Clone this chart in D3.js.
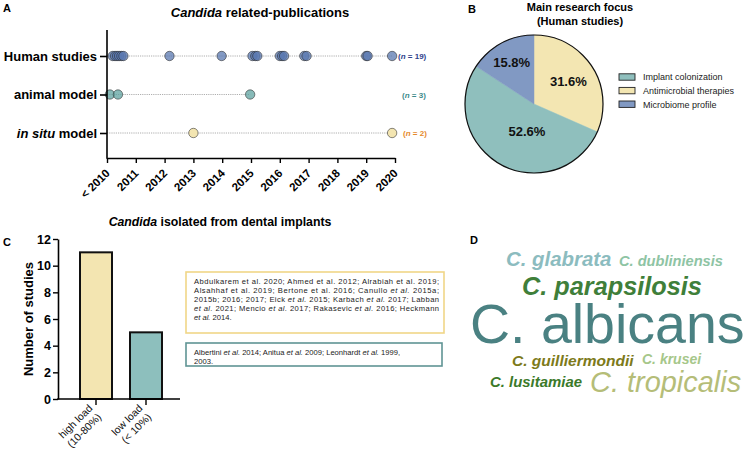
<!DOCTYPE html>
<html><head><meta charset="utf-8">
<script src="https://cdn.jsdelivr.net/npm/d3@7"></script>
<style>
body{margin:0;background:#fff}
svg{display:block;font-family:"Liberation Sans",Arial,Helvetica,sans-serif}
</style>
</head><body>
<svg id="c" width="747" height="454"></svg>
<script>
// ---------- Panel A data ----------
const pubCategories = ["Human studies", "animal model", "in situ model"];
const humanYears = [2010.2, 2010.28, 2010.35, 2010.42, 2010.5, 2010.57, 2012.17, 2013.98,
  2015.05, 2015.15, 2015.22, 2016.0, 2016.08, 2016.15, 2016.85, 2016.93, 2019.0, 2019.05, 2019.9];
const animalYears = [2010.1, 2010.38, 2014.97];
const inSituYears = [2013.0, 2019.9];
const pubCounts = [19, 3, 2];
const yearTicks = [2010, 2011, 2012, 2013, 2014, 2015, 2016, 2017, 2018, 2019, 2020];
const yearTickLabels = ["< 2010", "2011", "2012", "2013", "2014", "2015", "2016", "2017", "2018", "2019", "2020"];

// ---------- Panel B data ----------
const focusLabels = ["Antimicrobial therapies", "Implant colonization", "Microbiome profile"];
const focusValues = [31.6, 52.6, 15.8];
const legendOrder = ["Implant colonization", "Antimicrobial therapies", "Microbiome profile"];

// ---------- Panel C data ----------
const loadCategories = ["high load|(10-80%)", "low load|(< 10%)"];
const loadStudies = [11, 5];
const countTicks = [0, 2, 4, 6, 8, 10, 12];
const highLoadRefs = [
  "Abdulkarem et al. 2020; Ahmed et al. 2012; Alrabiah et al. 2019;",
  "Alsahhaf et al. 2019; Bertone et al. 2016; Canullo _et al._ 2015a;",
  "2015b; 2016; 2017; Eick _et al._ 2015; Karbach _et al._ 2017; Labban",
  "_et al._ 2021; Mencio _et al._ 2017; Rakasevic _et al._ 2016; Heckmann",
  "_et al._ 2014."
];
const lowLoadRefs = [
  "Albertini _et al._ 2014; Anitua _et al._ 2009; Leonhardt _et al._ 1999,",
  "2003."
];

// ---------- Panel D data ----------
const species = ["C. albicans", "C. tropicalis", "C. parapsilosis", "C. glabrata",
  "C. guilliermondii", "C. lusitamiae", "C. dubliniensis", "C. krusei"];
const speciesWeights = [16, 7.3, 6.1, 4.5, 2.9, 2.7, 2.6, 2.4];

// ---------- styles / layout (not data) ----------
const catColors = ["#5a78b0", "#5fa3a0", "#f3e5b1"];
const catStroke = "#2a2a2a";
const nColors = ["#2e3f8c", "#3e8b8b", "#e5892b"];
const pieColors = {"Antimicrobial therapies": "#f3e6b2", "Implant colonization": "#8fbfbd", "Microbiome profile": "#8199c3"};
const pieLabelR = [41, 28, 47];
const pieLabelAngleShift = [0, -0.24, 0];
const cloudLayout = [
  {x: 470, y: 343, color: "#4a8182", weight: "normal", style: "normal"},
  {x: 590, y: 392, color: "#b5bd78", weight: "normal", style: "italic"},
  {x: 522, y: 295, color: "#3f7f3a", weight: "bold", style: "italic"},
  {x: 506, y: 266, color: "#8cbcbf", weight: "bold", style: "italic"},
  {x: 512, y: 366, color: "#7d7a1a", weight: "bold", style: "italic"},
  {x: 490, y: 387, color: "#3b7a2a", weight: "bold", style: "italic"},
  {x: 619, y: 266, color: "#8ec4a4", weight: "bold", style: "italic"},
  {x: 642, y: 364, color: "#a6c78a", weight: "bold", style: "italic"}
];

const svg = d3.select("#c");

// panel letters
[["A", 3, 12], ["B", 468, 13], ["C", 3, 246], ["D", 470, 244]].forEach(([t, x, y]) =>
  svg.append("text").attr("x", x).attr("y", y).attr("font-size", 11).attr("font-weight", "bold").text(t));

// ================= Panel A =================
const gA = svg.append("g");
const xA = d3.scaleLinear().domain([2010, 2020]).range([107, 395]);
const yA = d3.scalePoint().domain(pubCategories).range([56, 133]);

const titleA = gA.append("text").attr("x", 260).attr("y", 17).attr("text-anchor", "middle")
  .attr("font-size", 13).attr("font-weight", "bold");
titleA.append("tspan").attr("font-style", "italic").text("Candida");
titleA.append("tspan").text(" related-publications");

const seriesA = [humanYears, animalYears, inSituYears];
seriesA.forEach((ys, i) => {
  gA.append("line").attr("x1", xA(2010)).attr("x2", xA(d3.max(ys)))
    .attr("y1", yA(pubCategories[i])).attr("y2", yA(pubCategories[i]))
    .attr("stroke", "#9a9a9a").attr("stroke-width", 0.8).attr("stroke-dasharray", "1.2,1");
});
seriesA.forEach((ys, i) => {
  gA.append("g").selectAll("circle").data(ys).join("circle")
    .attr("cx", d => xA(d)).attr("cy", yA(pubCategories[i])).attr("r", 4.7)
    .attr("fill", catColors[i]).attr("fill-opacity", i === 2 ? 1 : 0.75)
    .attr("stroke", catStroke).attr("stroke-width", 0.7).attr("stroke-opacity", 0.8);
});
pubCounts.forEach((n, i) => {
  const t = gA.append("text").attr("x", [398, 402, 403][i]).attr("y", yA(pubCategories[i]) + 3)
    .attr("font-size", 8).attr("font-weight", "bold").attr("fill", nColors[i]);
  t.append("tspan").text("(");
  t.append("tspan").attr("font-style", "italic").text("n");
  t.append("tspan").text(" = " + n + ")");
});

const yAxisA = gA.append("g").attr("transform", `translate(${xA(2010)},0)`)
  .call(d3.axisLeft(yA).tickSize(7).tickPadding(3));
yAxisA.select(".domain").remove();
yAxisA.selectAll(".tick line").attr("stroke", "#000").attr("stroke-width", 1.6);
yAxisA.selectAll(".tick text").attr("font-size", 13).attr("font-weight", "bold")
  .attr("font-family", "Liberation Sans, Arial, sans-serif").attr("fill", "#000")
  .each(function (d) {
    if (d === "in situ model") {
      const t = d3.select(this); t.text("");
      t.append("tspan").attr("font-style", "italic").text("in situ");
      t.append("tspan").text(" model");
    }
  });
gA.append("line").attr("x1", xA(2010)).attr("x2", xA(2010)).attr("y1", 30).attr("y2", 158.8)
  .attr("stroke", "#000").attr("stroke-width", 1.6);

const xAxisA = gA.append("g").attr("transform", "translate(0,158)")
  .call(d3.axisBottom(xA).tickValues(yearTicks).tickFormat((d, i) => yearTickLabels[i]).tickSize(5).tickSizeOuter(0));
xAxisA.select(".domain").attr("stroke", "#000").attr("stroke-width", 1.6);
xAxisA.selectAll(".tick line").attr("stroke", "#000").attr("stroke-width", 1.4);
xAxisA.selectAll(".tick text").attr("font-size", 11.5).attr("font-weight", "bold")
  .attr("font-family", "Liberation Sans, Arial, sans-serif").attr("fill", "#000")
  .attr("text-anchor", "end").attr("dy", null).attr("y", null)
  .attr("transform", "translate(3,16) rotate(-45)");

// ================= Panel B =================
const gB = svg.append("g");
gB.append("text").attr("x", 580).attr("y", 11).attr("text-anchor", "middle")
  .attr("font-size", 11).attr("font-weight", "bold").text("Main research focus");
gB.append("text").attr("x", 580).attr("y", 25).attr("text-anchor", "middle")
  .attr("font-size", 11).attr("font-weight", "bold").text("(Human studies)");
const pieC = {x: 534, y: 104}, pieR = 69;
const pie = d3.pie().sort(null).value(d => d)(focusValues);
const arc = d3.arc().innerRadius(0).outerRadius(pieR);
const gPie = gB.append("g").attr("transform", `translate(${pieC.x},${pieC.y})`);
gPie.selectAll("path").data(pie).join("path").attr("d", arc)
  .attr("fill", (d, i) => pieColors[focusLabels[i]])
  .attr("stroke", (d, i) => pieColors[focusLabels[i]]).attr("stroke-width", 0.5);
gPie.append("circle").attr("r", pieR).attr("fill", "none").attr("stroke", "#111").attr("stroke-width", 1.2);
gPie.selectAll("text").data(pie).join("text")
  .attr("transform", (d, i) => {
    const a = (d.startAngle + d.endAngle) / 2 + pieLabelAngleShift[i];
    const r = pieLabelR[i];
    return `translate(${Math.sin(a) * r},${-Math.cos(a) * r})`;
  })
  .attr("text-anchor", "middle").attr("dy", "0.36em")
  .attr("font-size", 13).attr("font-weight", "bold").attr("fill", "#111")
  .text(d => d.value.toFixed(1) + "%");
const leg = gB.append("g").selectAll("g").data(legendOrder).join("g")
  .attr("transform", (d, i) => `translate(619,${77 + i * 13.6})`);
leg.append("rect").attr("x", 0).attr("y", -3.2).attr("width", 16).attr("height", 6.4)
  .attr("fill", d => pieColors[d]).attr("stroke", "#222").attr("stroke-width", 0.9);
leg.append("text").attr("x", 24).attr("y", 3.3).attr("font-size", 9).attr("fill", "#222").text(d => d);

// ================= Panel C =================
const gC = svg.append("g");
const titleC = gC.append("text").attr("x", 220).attr("y", 226).attr("text-anchor", "middle")
  .attr("font-size", 12.3).attr("font-weight", "bold");
titleC.append("tspan").attr("font-style", "italic").text("Candida");
titleC.append("tspan").text(" isolated from dental implants");

const yC = d3.scaleLinear().domain([0, 12]).range([399, 239]);
const xC = d3.scaleBand().domain(loadCategories).range([71, 171]).paddingInner(0.36).paddingOuter(0.18);
const barColors = ["#f3e5b1", "#8dbfbd"];
gC.selectAll("rect.bar").data(loadStudies).join("rect").attr("class", "bar")
  .attr("x", (d, i) => xC(loadCategories[i])).attr("width", xC.bandwidth())
  .attr("y", d => yC(d)).attr("height", d => yC(0) - yC(d))
  .attr("fill", (d, i) => barColors[i]).attr("stroke", "#111").attr("stroke-width", 2);

const yAxisC = gC.append("g").attr("transform", "translate(58,0)")
  .call(d3.axisLeft(yC).tickValues(countTicks).tickSize(5).tickSizeOuter(0).tickPadding(2));
yAxisC.select(".domain").attr("stroke", "#000").attr("stroke-width", 1.6);
yAxisC.selectAll(".tick line").attr("stroke", "#000").attr("stroke-width", 1.4);
yAxisC.selectAll(".tick text").attr("font-size", 12.5).attr("font-weight", "bold")
  .attr("font-family", "Liberation Sans, Arial, sans-serif").attr("fill", "#000");
gC.append("line").attr("x1", 57.2).attr("x2", 180).attr("y1", 399).attr("y2", 399)
  .attr("stroke", "#000").attr("stroke-width", 1.6);
const xAxisC = gC.append("g").attr("transform", "translate(0,399)")
  .call(d3.axisBottom(xC).tickSize(6).tickSizeOuter(0).tickFormat(() => ""));
xAxisC.select(".domain").remove();
xAxisC.selectAll(".tick line").attr("stroke", "#000").attr("stroke-width", 1.4);
xAxisC.selectAll(".tick").each(function (d) {
  const parts = d.split("|");
  const t = d3.select(this).append("text")
    .attr("transform", "rotate(-45)")
    .attr("text-anchor", "end").attr("font-size", 10.5).attr("fill", "#111");
  parts.forEach((p, k) => t.append("tspan").attr("x", -9).attr("y", 5 + k * 12.5).text(p));
});
gC.append("text").attr("transform", "translate(33,319) rotate(-90)").attr("text-anchor", "middle")
  .attr("font-size", 13).attr("font-weight", "bold").text("Number of studies");

function refBox(lines, y0, h, x1, color, justifyCount) {
  gC.append("rect").attr("x", 186).attr("y", y0).attr("width", x1 - 186).attr("height", h)
    .attr("fill", "#fff").attr("stroke", color).attr("stroke-width", 1.6);
  lines.forEach((ln, k) => {
    const t = gC.append("text").attr("x", 194).attr("y", y0 + 12 + k * 9.1)
      .attr("font-size", 7.6).attr("fill", "#1a1a1a");
    ln.split("_").forEach((seg, j) => {
      if (seg.length) t.append("tspan").attr("font-style", j % 2 ? "italic" : "normal").text(seg);
    });
    if (k < justifyCount) t.attr("textLength", 245).attr("lengthAdjust", "spacing");
  });
}
refBox(highLoadRefs, 272, 61, 444, "#f1d687", 4);
refBox(lowLoadRefs, 343, 23, 442, "#5f9494", 0);

// ================= Panel D =================
const sizeScale = d3.scaleLinear().domain([2.4, 16]).range([14, 55.5]);
const gD = svg.append("g");
species.forEach((s, i) => {
  const L = cloudLayout[i];
  gD.append("text").attr("x", L.x).attr("y", L.y)
    .attr("font-size", sizeScale(speciesWeights[i]))
    .attr("font-weight", L.weight)
    .attr("font-style", L.style).attr("fill", L.color).text(s);
});
</script>
</body></html>
